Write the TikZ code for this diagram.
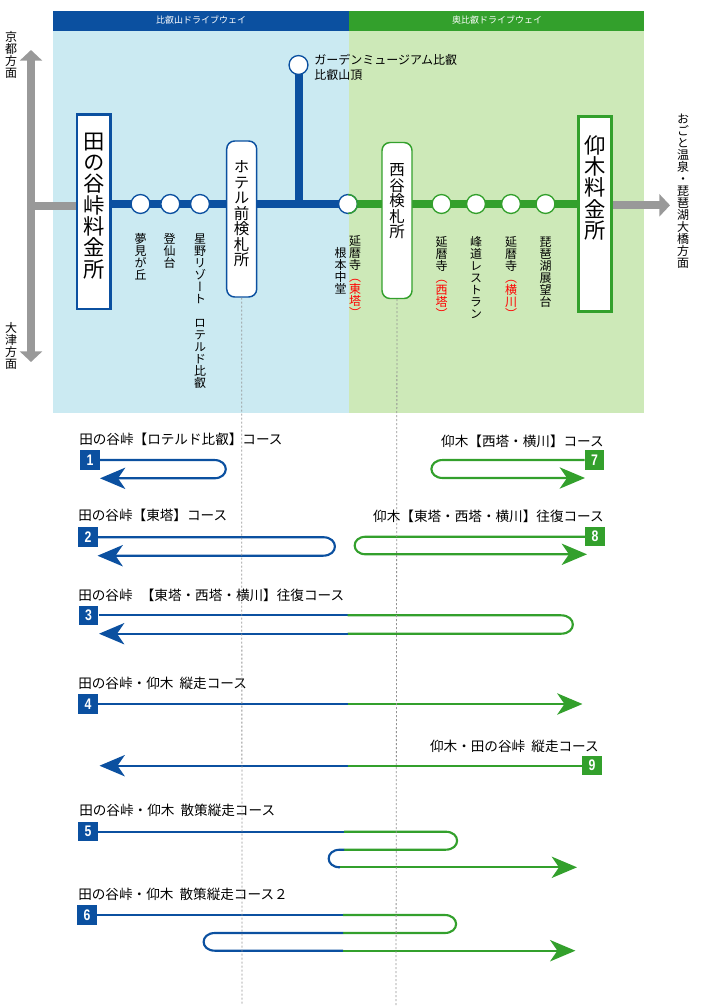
\documentclass[tikz,border=0pt]{standalone}
\usepackage{fontspec}
\setmainfont{Noto Sans CJK JP}
\newfontfamily\vcjk[RawFeature={+vert}]{Noto Sans CJK JP}
\newfontfamily\numfont[FakeStretch=0.8]{Liberation Sans}
\definecolor{hieiblue}{HTML}{0B50A0}
\definecolor{okugreen}{HTML}{33A02C}
\definecolor{paleblue}{HTML}{CBEAF2}
\definecolor{palegreen}{HTML}{CDE9B8}
\definecolor{roadgray}{HTML}{999999}
\usetikzlibrary{arrows.meta,backgrounds}

% One character per line, the optional part in red
\makeatletter
\newcommand\tatechars[1]{\@tfor\tatech:=#1\do{\hbox to 1em{\vrule height .88em depth .12em width 0pt\hss\smash{\tatech}\hss}}}
\newcommand\tate[2][]{\vbox{\offinterlineskip\tatechars{#2}\color{red}\tatechars{#1}}}
\makeatother

\begin{document}
\begin{tikzpicture}[
  x=0.75pt,y=-0.75pt,
  headtext/.style={text=white,inner sep=0pt,font=\fontsize{6.75}{8}\selectfont},
  tollbox/.style={fill=white,line width=2pt,minimum width=25pt,minimum height=146pt,inner sep=0pt},
  gatebox/.style={fill=white,line width=1.1pt,rounded corners=6pt,minimum width=22.5pt,minimum height=117pt,inner sep=0pt},
  stopnode/.style={circle,fill=white,line width=1pt,minimum size=14.2pt,inner sep=0pt,outer sep=0pt},
  vtext/.style={anchor=north,inner sep=0pt,font=\vcjk\fontsize{9}{10}\selectfont},
  tolltext/.style={vtext,font=\vcjk\fontsize{16}{18}\selectfont},
  gatetext/.style={vtext,font=\vcjk\fontsize{11.6}{13}\selectfont},
  htext/.style={anchor=west,inner sep=0pt,font=\fontsize{9}{10}\selectfont},
  ltext/.style={anchor=west,inner sep=0pt,font=\fontsize{10.2}{12}\selectfont},
  rtext/.style={anchor=east,inner sep=0pt,font=\fontsize{10.2}{12}\selectfont},
  badge/.style={text=white,minimum size=14.6pt,inner sep=0pt,font=\numfont\bfseries\fontsize{11.5}{12}\selectfont},
  mainroad/.style={line width=6pt},
  road/.style={line width=6pt,color=roadgray},
  course/.style={line width=1.6pt},
  tipped/.style={course,-{Stealth[length=19pt,width=16pt,inset=5.5pt]}},
  rightturn/.style={out=0,in=0,looseness=2.2},
  leftturn/.style={out=180,in=180,looseness=2.2},
  guide/.style={dash pattern=on 1.5pt off 1.5pt,color=gray!85,line width=0.6pt}
]

% Background panels
\begin{pgfonlayer}{background}
  \fill[paleblue] (53,31) rectangle (349,413);
  \fill[palegreen] (349,31) rectangle (644,413);
  \fill[hieiblue] (53,10.5) rectangle (349,31);
  \fill[okugreen] (349,10.5) rectangle (644,31);
\end{pgfonlayer}
\node[headtext] (hieihead) at (201,20.5) {比叡山ドライブウェイ};
\node[headtext] (okuhead) at (497,20.5) {奥比叡ドライブウェイ};

% Toll gates and ticket checks
\node[tollbox,draw=hieiblue] (tanotani) at (93.5,211.5) {};
\node[tollbox,draw=okugreen] (ougi) at (595,214) {};
\node[gatebox,draw=hieiblue] (hotel) at (241.7,219) {};
\node[gatebox,draw=okugreen] (nishitani) at (397,220.5) {};
\node[tolltext] (tanotanitext) at (94,130) {\tate{田の谷峠料金所}};
\node[tolltext] (ougitext) at (595,134) {\tate{仰木料金所}};
\node[gatetext] (hoteltext) at (241.7,159) {\tate{ホテル前検札所}};
\node[gatetext] (nishitanitext) at (397,162) {\tate{西谷検札所}};

% Stops
\node[stopnode,draw=hieiblue] (yumemi) at (140.5,204) {};
\node[stopnode,draw=hieiblue] (tosen) at (170.3,204) {};
\node[stopnode,draw=hieiblue] (hoshino) at (200,204) {};
\node[stopnode,draw=hieiblue] (garden) at (298.5,65) {};
\node[stopnode,draw=hieiblue] (nemoto) at (348,204) {};
\node[stopnode,draw=okugreen] (saito) at (441.5,204) {};
\node[stopnode,draw=okugreen] (minemichi) at (476,204) {};
\node[stopnode,draw=okugreen] (yokawa) at (511,204) {};
\node[stopnode,draw=okugreen] (biwako) at (545.5,204) {};
\draw[okugreen,line width=1pt] (nemoto.north) arc[start angle=-90,end angle=90,radius=9.47];

% Road lines
\coordinate (kyoto) at (31,50);
\coordinate (otsu) at (31,362);
\coordinate (junction) at (31,206);
\coordinate (ougiroad) at (670,205.3);
\coordinate (gardenfoot) at (298.5,204);
\begin{pgfonlayer}{background}
  \draw[mainroad,hieiblue] (tanotani.east |- nemoto) -- (nemoto.center);
  \draw[mainroad,hieiblue] (garden) -- (gardenfoot);
  \draw[mainroad,okugreen] (nemoto.center) -- (ougi.west |- nemoto);
\end{pgfonlayer}
\draw[road,{Triangle[length=8pt,width=16.5pt]}-{Triangle[length=8pt,width=16.5pt]}] (kyoto) -- (otsu);
\draw[road] (junction) -- (tanotani.west |- junction);
\draw[road,-{Triangle[length=8pt,width=16.5pt]}] (ougi.east |- ougiroad) -- (ougiroad);

% Place names
\node[vtext] (kyototext) at (11,31) {\tate{京都方面}};
\node[vtext] (otsutext) at (11,322) {\tate{大津方面}};
\node[vtext] (yumemitext) at (140.5,233) {\tate{夢見が丘}};
\node[vtext] (tosentext) at (169.5,233) {\tate{登仙台}};
\node[vtext] (hoshinotext) at (200,233) {\tate{星野リゾート　ロテルド比叡}};
\node[vtext] (nemototext) at (340.5,247) {\tate{根本中堂}};
\node[vtext] (totext) at (355,235) {\tate[（東塔）]{延暦寺}};
\node[vtext] (saitotext) at (441.5,236) {\tate[（西塔）]{延暦寺}};
\node[vtext] (minemichitext) at (476,236) {\tate{峰道レストラン}};
\node[vtext] (yokawatext) at (511,236) {\tate[（横川）]{延暦寺}};
\node[vtext] (biwakotext) at (545.5,236) {\tate{琵琶湖展望台}};
\node[vtext] (ogototext) at (683,113) {\tate{おごと温泉・琵琶湖大橋方面}};
\node[htext] (gardentext) at (314,60) {ガーデンミュージアム比叡};
\node[htext] (summittext) at (314,74.5) {比叡山頂};

% Course 1
\node[ltext] (c1text) at (79,439) {田の谷峠【ロテルド比叡】コース};
\node[badge,fill=hieiblue] (b1) at (90,460) {1};
\coordinate (t1) at (100,478.3);
\draw[tipped,hieiblue] (b1.east) -- (214,460) to[rightturn] (214,478.3) -- (t1);

% Course 2
\node[ltext] (c2text) at (78,515) {田の谷峠【東塔】コース};
\node[badge,fill=hieiblue] (b2) at (88,537.2) {2};
\coordinate (t2) at (97.5,555.7);
\draw[tipped,hieiblue] (b2.east) -- (323,537.2) to[rightturn] (323,555.7) -- (t2);

% Course 3
\node[ltext] (c3text) at (78,595) {田の谷峠\hspace{0.6em}【東塔・西塔・横川】往復コース};
\node[badge,fill=hieiblue] (b3) at (88.5,615.3) {3};
\coordinate (m3a) at (347.5,615.3);
\coordinate (m3b) at (347.5,633.7);
\coordinate (t3) at (99,633.7);
\draw[course,hieiblue] (b3.east) -- (m3a);
\draw[course,okugreen] (m3a) -- (561,615.3) to[rightturn] (561,633.7) -- (m3b);
\draw[tipped,hieiblue] (m3b) -- (t3);

% Course 4
\node[ltext] (c4text) at (78,683) {田の谷峠・仰木\hspace{0.45em}縦走コース};
\node[badge,fill=hieiblue] (b4) at (88,704) {4};
\coordinate (m4) at (348,704);
\coordinate (t4) at (582.5,704);
\draw[course,hieiblue] (b4.east) -- (m4);
\draw[tipped,okugreen] (m4) -- (t4);

% Course 5
\node[ltext] (c5text) at (79,810.7) {田の谷峠・仰木\hspace{0.45em}散策縦走コース};
\node[badge,fill=hieiblue] (b5) at (88,831.7) {5};
\coordinate (m5a) at (344,831.7);
\coordinate (m5b) at (344,849.7);
\coordinate (m5c) at (340,867.3);
\coordinate (t5) at (577,867.3);
\draw[course,hieiblue] (b5.east) -- (m5a);
\draw[course,okugreen] (m5a) -- (445.5,831.7) to[rightturn] (445.5,849.7) -- (m5b);
\draw[course,hieiblue] (m5b) -- (340,849.7) to[leftturn] (m5c);
\draw[tipped,okugreen] (m5c) -- (t5);

% Course 6
\node[ltext] (c6text) at (78,894) {田の谷峠・仰木\hspace{0.45em}散策縦走コース２};
\node[badge,fill=hieiblue] (b6) at (87,915) {6};
\coordinate (m6a) at (343,915);
\coordinate (m6b) at (343,933);
\coordinate (m6c) at (343,950.7);
\coordinate (t6) at (575.4,950.7);
\draw[course,hieiblue] (b6.east) -- (m6a);
\draw[course,okugreen] (m6a) -- (444.5,915) to[rightturn] (444.5,933) -- (m6b);
\draw[course,hieiblue] (m6b) -- (215,933) to[leftturn] (215,950.7) -- (m6c);
\draw[tipped,okugreen] (m6c) -- (t6);

% Course 7
\node[rtext] (c7text) at (604,441) {仰木【西塔・横川】コース};
\node[badge,fill=okugreen] (b7) at (594.5,460) {7};
\coordinate (t7) at (585,478);
\draw[tipped,okugreen] (b7.west) -- (443,460) to[leftturn] (443,478) -- (t7);

% Course 8
\node[rtext] (c8text) at (604,516.7) {仰木【東塔・西塔・横川】往復コース};
\node[badge,fill=okugreen] (b8) at (595,536.7) {8};
\coordinate (t8) at (587,554.3);
\draw[tipped,okugreen] (b8.west) -- (366,536.7) to[leftturn] (366,554.3) -- (t8);

% Course 9
\node[rtext] (c9text) at (599,746) {仰木・田の谷峠\hspace{0.45em}縦走コース};
\node[badge,fill=okugreen] (b9) at (592,765.7) {9};
\coordinate (m9) at (348,765.7);
\coordinate (t9) at (99.5,765.7);
\draw[course,okugreen] (b9.west) -- (m9);
\draw[tipped,hieiblue] (m9) -- (t9);

% Guide lines below the ticket checks
\coordinate (hotelend) at (242,1005);
\coordinate (nishitaniend) at (396,1005);
\draw[guide] (hotel.south) -- (hotelend);
\draw[guide] (nishitani.south) -- (nishitaniend);

\useasboundingbox (0,0) rectangle (700,1007);
\end{tikzpicture}
\end{document}
